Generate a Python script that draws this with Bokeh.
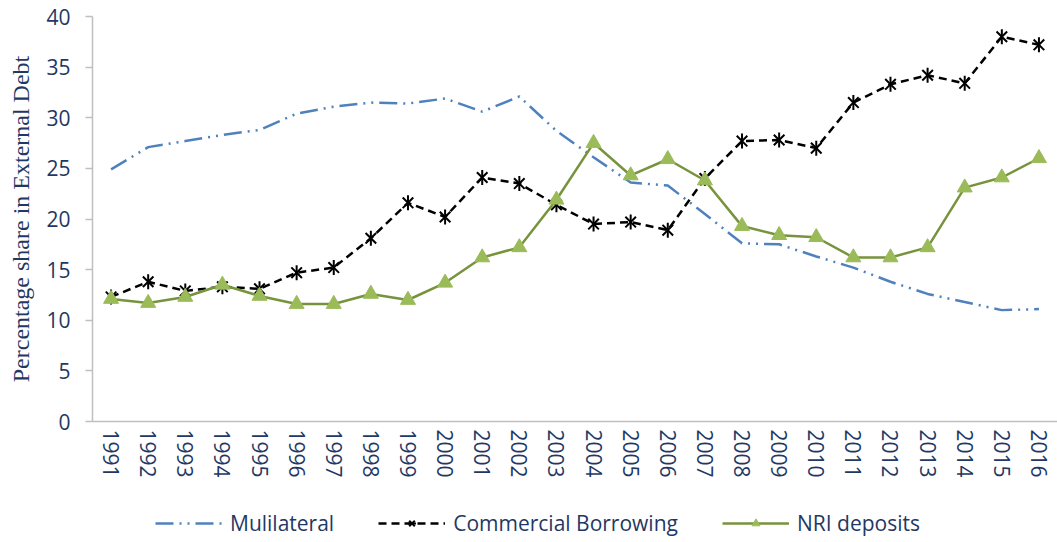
from bokeh.plotting import figure
from bokeh.models import Range1d, FixedTicker, Legend, LegendItem
from bokeh.layouts import column
from bokeh.embed import file_html
from bokeh.resources import INLINE
import math

years = list(range(1991, 2017))
year_labels = [str(y) for y in years]
multilateral = [24.9, 27.1, 27.7, 28.3, 28.8, 30.4, 31.1, 31.5, 31.4, 31.9, 30.6, 32.1, 28.7,
                26.1, 23.6, 23.3, 20.5, 17.6, 17.5, 16.3, 15.2, 13.8, 12.6, 11.8, 11.0, 11.1]
commercial = [12.3, 13.8, 12.9, 13.3, 13.1, 14.7, 15.2, 18.1, 21.6, 20.2, 24.1, 23.5, 21.4,
              19.5, 19.7, 18.9, 24.0, 27.7, 27.8, 27.0, 31.5, 33.3, 34.2, 33.4, 38.0, 37.2]
nri = [12.1, 11.7, 12.3, 13.5, 12.4, 11.6, 11.6, 12.6, 12.0, 13.7, 16.2, 17.2, 21.9,
       27.5, 24.3, 25.9, 23.8, 19.3, 18.4, 18.2, 16.2, 16.2, 17.2, 23.1, 24.1, 26.0]
y_ticks = [0, 5, 10, 15, 20, 25, 30, 35, 40]
series_names = ["Mulilateral", "Commercial Borrowing", "NRI deposits"]

NAVY = "#1F3864"
GRAY = "#BFBFBF"
BLUE = "#4F81BD"
OLIVE = "#77933C"
LIGHT_GREEN = "#9BBB59"

p = figure(width=1057, height=481, x_range=Range1d(1990.5, 2016.5), y_range=Range1d(0, 40),
           output_backend="svg", toolbar_location=None,
           min_border_left=92, min_border_right=0, min_border_top=16, min_border_bottom=60)
p.outline_line_color = None
p.xgrid.visible = False
p.ygrid.visible = False

# x axis
xa = p.xaxis[0]
xa.ticker = FixedTicker(ticks=years)
xa.major_label_overrides = {y: s for y, s in zip(years, year_labels)}
xa.major_label_orientation = "vertical"
xa.major_tick_out = 0
xa.major_tick_in = 0
xa.minor_tick_line_color = None
xa.axis_line_color = GRAY
xa.axis_line_width = 1.5
xa.major_label_text_font = "Open Sans"
xa.major_label_text_font_size = "21px"
xa.major_label_text_color = NAVY
xa.major_label_standoff = 8

# y axis
ya = p.yaxis[0]
ya.ticker = FixedTicker(ticks=y_ticks)
ya.major_tick_out = 7
ya.major_tick_in = 0
ya.major_tick_line_color = GRAY
ya.major_tick_line_width = 1.5
ya.minor_tick_line_color = None
ya.axis_line_color = GRAY
ya.axis_line_width = 1.5
ya.major_label_text_font = "Open Sans"
ya.major_label_text_font_size = "21px"
ya.major_label_text_color = NAVY
ya.major_label_standoff = 15
ya.axis_label = "Percentage share in External Debt"
ya.axis_label_text_font = "Liberation Serif"
ya.axis_label_text_font_style = "normal"
ya.axis_label_text_font_size = "24px"
ya.axis_label_text_color = NAVY
ya.axis_label_standoff = 9


def draw_series(fig, xs, m, c, n):
    rm = fig.line(xs, m, line_color=BLUE, line_width=2.5, line_dash="18 6 2 6 2 6")
    rc = fig.line(xs, c, line_color="black", line_width=2.5, line_dash="8 5")
    rcx = fig.scatter(xs, c, marker="x", size=15, line_color="black", line_width=2)
    rcv = fig.scatter(xs, c, marker="dash", size=15, angle=math.pi / 2,
                      line_color="black", line_width=2)
    rn = fig.line(xs, n, line_color=OLIVE, line_width=2.5)
    rns = fig.scatter(xs, n, marker="triangle", size=15, fill_color=LIGHT_GREEN,
                      line_color=LIGHT_GREEN)
    return [[rm], [rc, rcx, rcv], [rn, rns]]


draw_series(p, years, multilateral, commercial, nri)

# legend strip below the chart: same series drawn off-view so only legend samples show
pl = figure(width=1057, height=61, x_range=Range1d(0, 1), y_range=Range1d(0, 1),
            output_backend="svg", toolbar_location=None,
            min_border_left=0, min_border_right=0, min_border_top=0, min_border_bottom=0,
            x_axis_type=None, y_axis_type=None)
pl.outline_line_color = None
pl.xgrid.visible = False
pl.ygrid.visible = False
groups = draw_series(pl, years, multilateral, commercial, nri)

legend = Legend(items=[LegendItem(label=name, renderers=rs) for name, rs in zip(series_names, groups)],
                orientation="horizontal", location=(63, 5))
legend.background_fill_alpha = 0
legend.border_line_color = None
legend.padding = 0
legend.margin = 0
legend.spacing = 44
legend.glyph_width = 67
legend.glyph_height = 20
legend.label_standoff = 8
legend.label_text_font = "Open Sans"
legend.label_text_font_size = "21px"
legend.label_text_color = NAVY
pl.add_layout(legend, "center")

layout = column(p, pl, spacing=0)
open("out.html", "w").write(file_html(layout, INLINE))
